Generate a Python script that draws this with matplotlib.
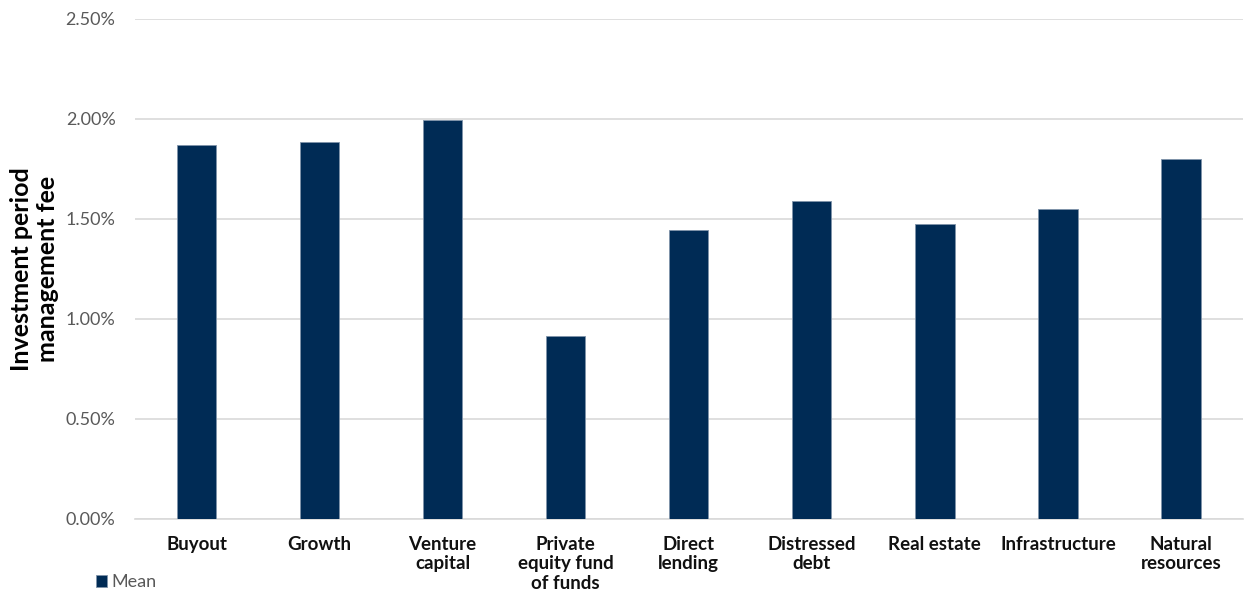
import matplotlib.pyplot as plt
import numpy as np
from matplotlib.ticker import FuncFormatter

plt.rcParams['font.family'] = ['Lato', 'DejaVu Sans']

categories = ['Buyout', 'Growth', 'Venture\ncapital', 'Private\nequity fund\nof funds',
              'Direct\nlending', 'Distressed\ndebt', 'Real estate', 'Infrastructure',
              'Natural\nresources']
mean_fee = [1.87, 1.885, 1.995, 0.915, 1.445, 1.59, 1.475, 1.55, 1.80]

fig = plt.figure(figsize=(12.5, 5.91), dpi=100)
ax = fig.add_axes([0.108, 0.122, 0.886, 0.846])

x = np.arange(len(categories))
ax.bar(x, mean_fee, width=0.32, color='#002b55', edgecolor='#7f93aa', linewidth=0.6,
       label='Mean', zorder=3)

ax.set_xlim(-0.5, len(categories) - 0.5)
ax.set_ylim(0, 2.5)
ax.set_yticks(np.arange(0, 2.51, 0.5))
ax.yaxis.set_major_formatter(FuncFormatter(lambda v, p: f'{v:.2f}%'))
ax.grid(axis='y', color='#d9d9d9', linewidth=1.2, zorder=0)
for s in ['top', 'right', 'left']:
    ax.spines[s].set_visible(False)
ax.spines['bottom'].set_color('#d9d9d9')
ax.spines['bottom'].set_linewidth(1.2)
ax.tick_params(axis='both', length=0)
ax.tick_params(axis='y', labelsize=13, labelcolor='#595959', pad=14)

ax.set_xticks(x)
ax.set_xticklabels(categories, fontsize=13.5, fontweight='bold', color='#111111',
                   linespacing=1.2)
ax.tick_params(axis='x', pad=12)

ax.set_ylabel('Investment period\nmanagement fee', fontsize=18, fontweight='bold',
              labelpad=5, linespacing=1.15)

ax.legend(loc='lower left', bbox_to_anchor=(-0.05, -0.175), frameon=False,
          fontsize=13, handlelength=0.6, handleheight=0.6, handletextpad=0.25,
          labelcolor='#595959')

plt.savefig('out.png')
